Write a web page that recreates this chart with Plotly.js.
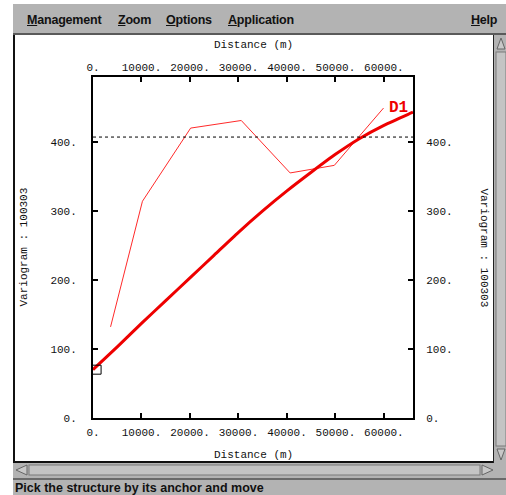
<!DOCTYPE html>
<html>
<head>
<meta charset="utf-8">
<script src="https://cdn.plot.ly/plotly-3.0.1.min.js"></script>
<style>
  html, body { margin: 0; padding: 0; background: #ffffff; }
  body { width: 506px; height: 495px; position: relative; overflow: hidden;
         font-family: "Liberation Sans", Arial, sans-serif; }
  #win { position: absolute; left: 13px; top: 4px; width: 493px; height: 491px; background: #b3b3b3; }
  #menubar { position: absolute; left: 13px; top: 4px; width: 493px; height: 29px;
             background: #b3b3b3; border-bottom: 2px solid #5a5a5a; }
  .menu { position: absolute; top: 9px; font-weight: bold; font-size: 12.5px; color: #111; letter-spacing: -0.2px; }
  .menu u { text-decoration: underline; }
  #chart { position: absolute; left: 15px; top: 35px; width: 478px; height: 426px; background: #fff; }
  #frame { position: absolute; left: 13px; top: 35px; width: 2px; height: 428px; background: #111; }
  #frameB { position: absolute; left: 13px; top: 461px; width: 481px; height: 2px; background: #111; }
  #frameR { position: absolute; left: 493px; top: 35px; width: 1px; height: 428px; background: #222; }
  #status { position: absolute; left: 13px; top: 478px; width: 493px; height: 17px;
            background: #b3b3b3; border-top: 2px solid #6a6a6a; }
  #status span { position: absolute; left: 2px; top: 1px; font-weight: bold; font-size: 12.5px; color: #111; }
  #chrome { position: absolute; left: 0; top: 0; }
</style>
</head>
<body>
<div id="win"></div>
<div id="menubar">
  <span class="menu" style="left:14px"><u>M</u>anagement</span>
  <span class="menu" style="left:105px"><u>Z</u>oom</span>
  <span class="menu" style="left:153px"><u>O</u>ptions</span>
  <span class="menu" style="left:215px"><u>A</u>pplication</span>
  <span class="menu" style="left:458px"><u>H</u>elp</span>
</div>

<!-- scrollbars -->
<svg id="chrome" width="506" height="495">
  <!-- vertical scrollbar -->
  <rect x="494" y="35" width="12" height="428" fill="#b3b3b3"/>
  <rect x="496" y="52" width="10" height="394" fill="#c4c4c4" stroke="#7a7a7a" stroke-width="1"/>
  <polygon points="497,49 501,38 505,49" fill="#c8c8c8" stroke="#666" stroke-width="1"/>
  <polygon points="497,449 501,460 505,449" fill="#c8c8c8" stroke="#666" stroke-width="1"/>
  <!-- horizontal scrollbar -->
  <rect x="13" y="463" width="481" height="14" fill="#b3b3b3"/>
  <rect x="29" y="465" width="451" height="10" fill="#c4c4c4" stroke="#7a7a7a" stroke-width="1"/>
  <polygon points="27,465 16,470 27,475" fill="#c8c8c8" stroke="#666" stroke-width="1"/>
  <polygon points="482,465 493,470 482,475" fill="#c8c8c8" stroke="#666" stroke-width="1"/>
</svg>

<div id="chart"></div>
<div id="frame"></div>
<div id="frameB"></div>
<div id="frameR"></div>
<div id="status"><span>Pick the structure by its anchor and move</span></div>

<script>
// Experimental variogram (lag distance in m, gamma)
var expDist  = [3620, 10200, 20140, 30580, 40660, 49770, 59920];
var expGamma = [132, 314, 420, 431, 355, 366, 449];

// Fitted model curve D1
var modelDist  = [0, 5000, 10000, 15000, 20000, 25000, 30000, 35000, 40000, 45000, 50000, 55000, 60000, 65000, 66000];
var modelGamma = [70, 103, 137, 170, 203, 236, 269, 300, 329, 356, 382, 405, 424, 440, 443];

// Sample variance (dashed reference)
var sillDist  = [0, 66000];
var sillGamma = [407, 407];

// Structure anchor
var anchorDist  = [740];
var anchorGamma = [70];

// Model label
var modelName = "D1";
var labelDist = [60620];
var labelGamma = [449];

// Tick marks
var xTickVals = [0, 10000, 20000, 30000, 40000, 50000, 60000];
var xTickText = ["0.", "10000.", "20000.", "30000.", "40000.", "50000.", "60000."];
var yTickVals = [0, 100, 200, 300, 400];
var yTickText = ["0.", "100.", "200.", "300.", "400."];

var xTitle = "Distance (m)";
var yTitle = "Variogram : 100303";

var mono = "Liberation Mono, DejaVu Sans Mono, Courier New, monospace";

var traces = [
  { x: sillDist, y: sillGamma, xaxis: "x2", yaxis: "y2", mode: "lines",
    line: { color: "#000", width: 1, dash: "3px,3px" }, hoverinfo: "skip" },
  { x: expDist, y: expGamma, mode: "lines",
    line: { color: "#ff2a2a", width: 1 } },
  { x: modelDist, y: modelGamma, mode: "lines",
    line: { color: "#ee0000", width: 3, shape: "spline", smoothing: 0.6 } },
  { x: anchorDist, y: anchorGamma, mode: "markers",
    marker: { symbol: "square-open", size: 9, color: "#000", line: { width: 1, color: "#000" } } }
];

function axisBase(extra) {
  var a = {
    ticks: "inside", ticklen: 5, tickwidth: 2, tickcolor: "#000",
    showline: true, linewidth: 2, linecolor: "#000",
    showgrid: false, zeroline: false,
    tickfont: { family: mono, size: 11, color: "#111" }
  };
  for (var k in extra) a[k] = extra[k];
  return a;
}

var layout = {
  width: 478, height: 426,
  margin: { l: 78, r: 80, t: 42, b: 43, pad: 0 },
  paper_bgcolor: "#fff", plot_bgcolor: "#fff",
  showlegend: false,
  font: { family: mono, size: 11, color: "#111" },
  xaxis: axisBase({ range: [0, 66000], tickvals: xTickVals, ticktext: xTickText,
                    side: "bottom", ticklabelstandoff: 3 }),
  xaxis2: axisBase({ range: [0, 66000], tickvals: xTickVals, ticktext: xTickText,
                     side: "top", overlaying: "x", ticklabelstandoff: 0 }),
  yaxis: axisBase({ range: [0, 494], tickvals: yTickVals, ticktext: yTickText,
                    side: "left", ticklabelstandoff: 12 }),
  yaxis2: axisBase({ range: [0, 494], tickvals: yTickVals, ticktext: yTickText,
                     side: "right", overlaying: "y", ticklabelstandoff: 9 }),
  annotations: [
    { text: xTitle, xref: "paper", yref: "paper", x: 0.5, y: 0, xanchor: "center", yanchor: "middle",
      yshift: -37, showarrow: false, font: { family: mono, size: 11, color: "#111" } },
    { text: xTitle, xref: "paper", yref: "paper", x: 0.5, y: 1, xanchor: "center", yanchor: "middle",
      yshift: 32, showarrow: false, font: { family: mono, size: 11, color: "#111" } },
    { text: yTitle, xref: "paper", yref: "paper", x: 0, y: 0.5, xanchor: "center", yanchor: "middle",
      xshift: -70, textangle: -90, showarrow: false, font: { family: mono, size: 11, color: "#111" } },
    { text: yTitle, xref: "paper", yref: "paper", x: 1, y: 0.5, xanchor: "center", yanchor: "middle",
      xshift: 71, textangle: 90, showarrow: false, font: { family: mono, size: 11, color: "#111" } },
    { text: "<b>" + modelName + "</b>", x: labelDist[0], y: labelGamma[0], xref: "x", yref: "y",
      xanchor: "left", yanchor: "middle", showarrow: false,
      font: { family: mono, size: 16, color: "#ee0000" } }
  ]
};

Plotly.newPlot("chart", traces, layout, { displayModeBar: false, staticPlot: true });
</script>
</body>
</html>
